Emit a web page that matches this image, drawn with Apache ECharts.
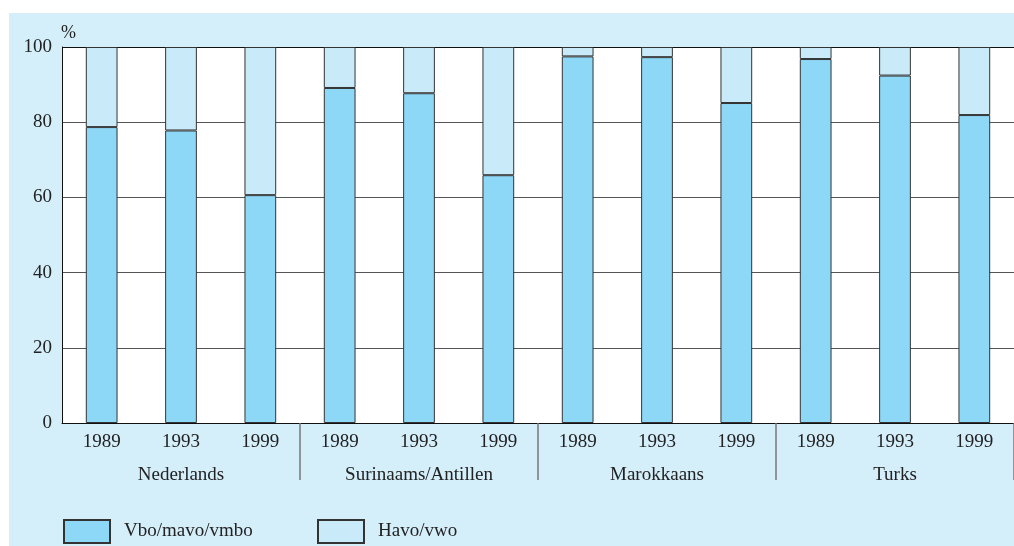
<!DOCTYPE html>
<html>
<head>
<meta charset="utf-8">
<script src="https://cdn.jsdelivr.net/npm/echarts@6/dist/echarts.min.js"></script>
<style>
  html, body { margin: 0; padding: 0; background: #fff; }
  #chart { width: 1014px; height: 546px; }
</style>
</head>
<body>
<div id="chart"></div>
<script>
var years = ['1989', '1993', '1999', '1989', '1993', '1999', '1989', '1993', '1999', '1989', '1993', '1999']
var groups = ['Nederlands', 'Surinaams/Antillen', 'Marokkaans', 'Turks']
var vbo = [78.7, 77.8, 60.6, 89.1, 87.7, 65.9, 97.5, 97.3, 85.1, 96.8, 92.4, 81.9]
var havo = [21.3, 22.2, 39.4, 10.9, 12.3, 34.1, 2.5, 2.7, 14.9, 3.2, 7.6, 18.1]
var yTicks = [0, 20, 40, 60, 80, 100]

var font = '"Liberation Serif", "DejaVu Serif", serif'
var ink = '#222'

var chart = echarts.init(document.getElementById('chart'))

// one legend per item so each sits where the reference puts it
var legendBase = function (left, name) {
  return {
    left: left,
    top: 519,
    padding: 0,
    itemWidth: 46,
    itemHeight: 23,
    icon: 'rect',
    textStyle: {
      fontFamily: font,
      fontSize: 19,
      color: ink,
      padding: [0, 0, 0, 9],
    },
    data: [name],
  }
}

chart.setOption({
  animation: false,
  backgroundColor: '#fff',
  textStyle: { fontFamily: font, color: ink },
  graphic: [
    {
      type: 'rect',
      z: -10,
      shape: { x: 9, y: 13, width: 1005, height: 533 },
      style: { fill: '#d4eefa' },
    },
    {
      type: 'text',
      left: 61,
      top: 24,
      style: { text: '%', font: '18px ' + font, fill: ink },
    },
  ],
  grid: {
    left: 62,
    right: 0,
    top: 47,
    bottom: 123,
    show: true,
    backgroundColor: '#fff',
    borderWidth: 0,
  },
  legend: [
    legendBase(63, 'Vbo/mavo/vmbo'),
    legendBase(317, 'Havo/vwo'),
  ],
  xAxis: [
    {
      type: 'category',
      data: years,
      axisLine: { lineStyle: { color: '#111', width: 1 } },
      axisTick: { show: false },
      axisLabel: { fontFamily: font, fontSize: 19, color: ink, margin: 10 },
    },
    {
      type: 'category',
      data: groups,
      position: 'bottom',
      axisLine: { show: false },
      axisTick: {
        show: true,
        length: 57,
        interval: function (i) { return i > 0 },
        lineStyle: { color: '#777', width: 1.5 },
      },
      axisLabel: { fontFamily: font, fontSize: 19, color: ink, margin: 43 },
    },
  ],
  yAxis: {
    type: 'value',
    min: yTicks[0],
    max: yTicks[yTicks.length - 1],
    interval: 20,
    axisLine: { show: true, lineStyle: { color: '#111', width: 1 } },
    axisTick: { show: false },
    axisLabel: { fontFamily: font, fontSize: 19, color: ink, margin: 10 },
    splitLine: { lineStyle: { color: ['#555', '#555', '#555', '#555', '#555', '#111'], width: 1 } },
  },
  series: [
    {
      name: 'Vbo/mavo/vmbo',
      type: 'bar',
      stack: 'total',
      barWidth: '40%',
      data: vbo,
      itemStyle: { color: '#8ed8f7', borderColor: '#333', borderWidth: 1 },
    },
    {
      name: 'Havo/vwo',
      type: 'bar',
      stack: 'total',
      barWidth: '40%',
      data: havo,
      itemStyle: { color: '#c8eaf9', borderColor: '#333', borderWidth: 1 },
    },
  ],
})
</script>
</body>
</html>
